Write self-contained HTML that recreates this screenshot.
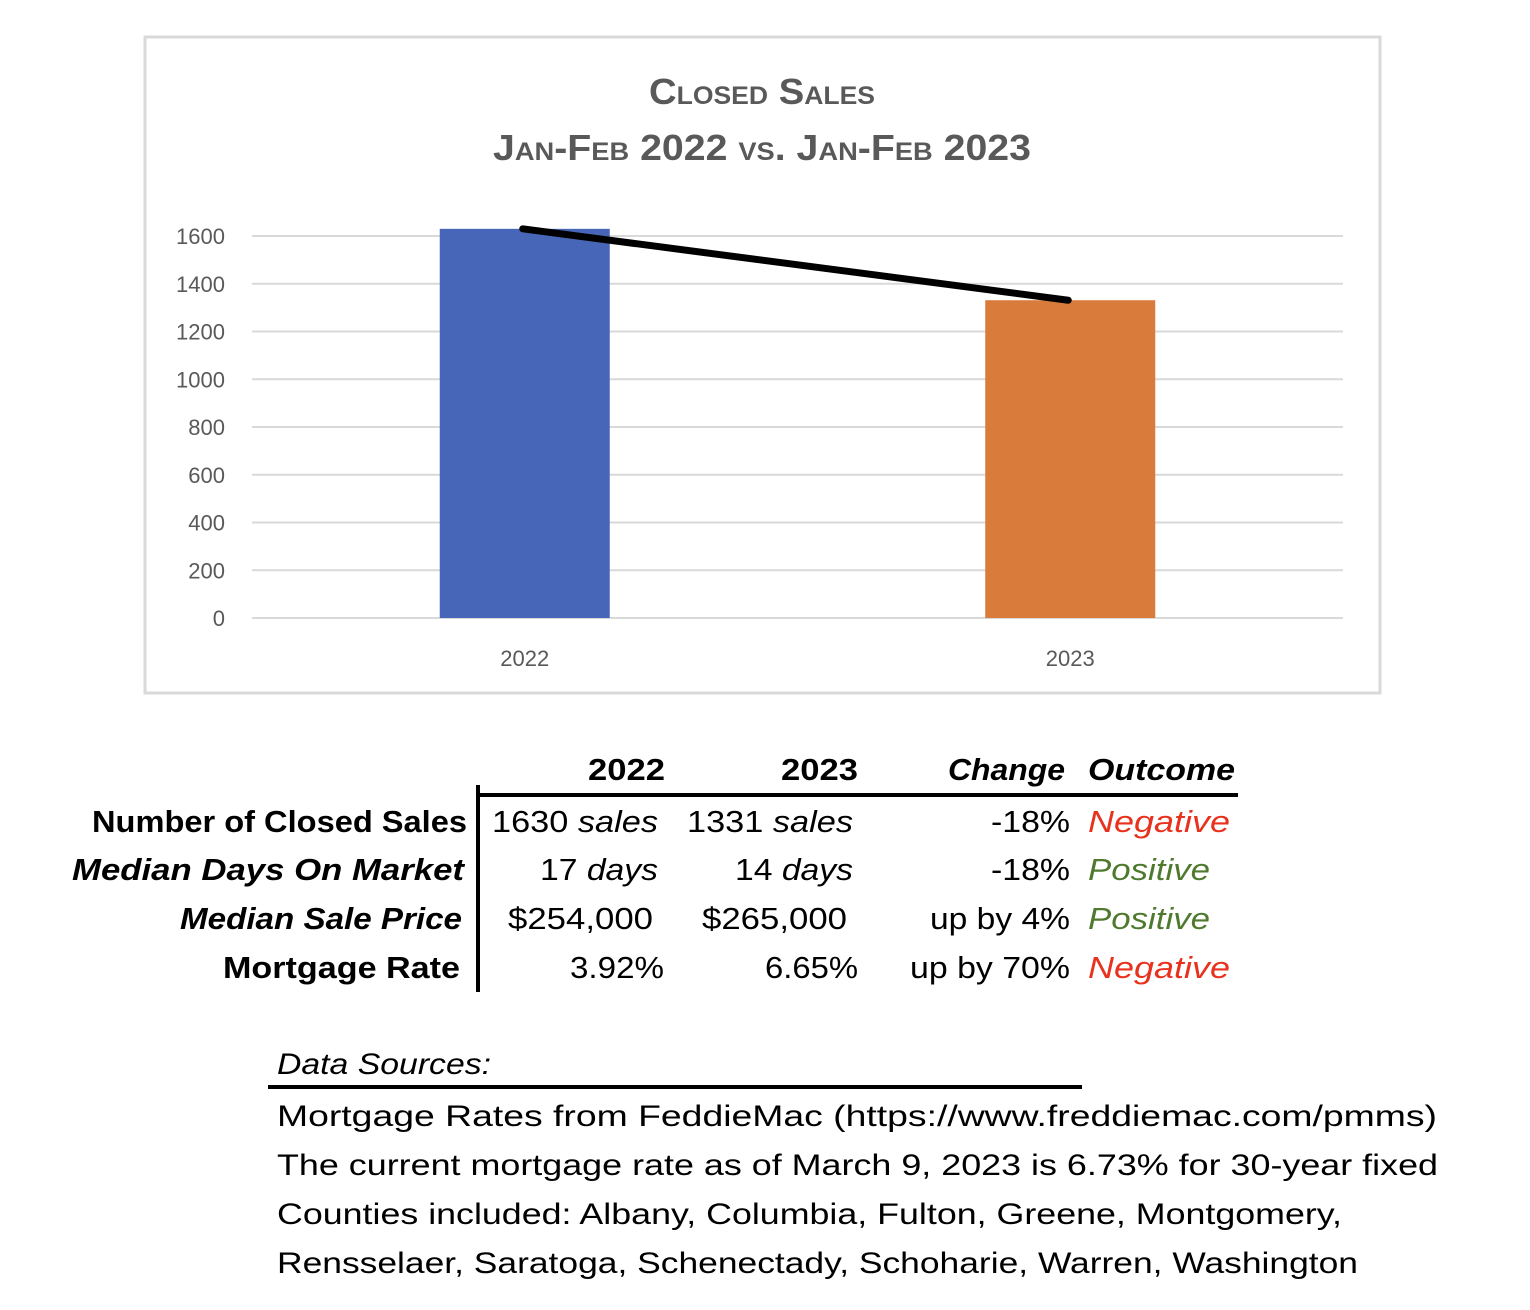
<!DOCTYPE html>
<html><head><meta charset="utf-8"><style>
html,body{margin:0;padding:0;background:#fff;}
svg{display:block;font-family:"Liberation Sans",sans-serif;}
</style></head><body>
<svg width="1530" height="1310" viewBox="0 0 1530 1310">
<rect x="145" y="37" width="1235" height="656" fill="#fff" stroke="#d9d9d9" stroke-width="3"/>
<g fill="#595959" font-weight="bold" style="font-variant:small-caps" text-anchor="middle">
<text x="762" y="104" font-size="36" textLength="226" lengthAdjust="spacingAndGlyphs">Closed Sales</text>
<text x="762" y="160" font-size="36" textLength="538" lengthAdjust="spacingAndGlyphs">Jan-Feb 2022 vs. Jan-Feb 2023</text>
</g>
<g id="grid"></g><g id="bars"></g><g id="trend"></g>

<g font-size="31" lengthAdjust="spacingAndGlyphs">
<g font-weight="bold" font-size="31">
<text x="665" y="780" text-anchor="end" textLength="77" lengthAdjust="spacingAndGlyphs">2022</text>
<text x="858" y="780" text-anchor="end" textLength="77" lengthAdjust="spacingAndGlyphs">2023</text>
<text x="1065" y="780" text-anchor="end" font-style="italic" textLength="117" lengthAdjust="spacingAndGlyphs">Change</text>
<text x="1088" y="780" font-style="italic" textLength="147" lengthAdjust="spacingAndGlyphs">Outcome</text>
<text x="467" y="832" text-anchor="end" textLength="375" lengthAdjust="spacingAndGlyphs">Number of Closed Sales</text>
<text x="464" y="880" text-anchor="end" font-style="italic" textLength="392" lengthAdjust="spacingAndGlyphs">Median Days On Market</text>
<text x="462" y="929" text-anchor="end" font-style="italic" textLength="282" lengthAdjust="spacingAndGlyphs">Median Sale Price</text>
<text x="460" y="978" text-anchor="end" textLength="237" lengthAdjust="spacingAndGlyphs">Mortgage Rate</text>
</g>
<line x1="478" y1="785" x2="478" y2="992" stroke="#000" stroke-width="4"/>
<line x1="478" y1="795" x2="1238" y2="795" stroke="#000" stroke-width="4"/>
<text x="492" y="832" textLength="166" lengthAdjust="spacingAndGlyphs">1630 <tspan font-style="italic">sales</tspan></text>
<text x="687" y="832" textLength="166" lengthAdjust="spacingAndGlyphs">1331 <tspan font-style="italic">sales</tspan></text>
<text x="991" y="832" textLength="79" lengthAdjust="spacingAndGlyphs">-18%</text>
<text x="1088" y="832" fill="#e8321e" font-style="italic" textLength="142" lengthAdjust="spacingAndGlyphs">Negative</text>
<text x="540" y="880" textLength="118" lengthAdjust="spacingAndGlyphs">17 <tspan font-style="italic">days</tspan></text>
<text x="735" y="880" textLength="118" lengthAdjust="spacingAndGlyphs">14 <tspan font-style="italic">days</tspan></text>
<text x="991" y="880" textLength="79" lengthAdjust="spacingAndGlyphs">-18%</text>
<text x="1088" y="880" fill="#4f7a2e" font-style="italic" textLength="122" lengthAdjust="spacingAndGlyphs">Positive</text>
<text x="508" y="929" textLength="145" lengthAdjust="spacingAndGlyphs">$254,000</text>
<text x="702" y="929" textLength="145" lengthAdjust="spacingAndGlyphs">$265,000</text>
<text x="930" y="929" textLength="140" lengthAdjust="spacingAndGlyphs">up by 4%</text>
<text x="1088" y="929" fill="#4f7a2e" font-style="italic" textLength="122" lengthAdjust="spacingAndGlyphs">Positive</text>
<text x="570" y="978" textLength="94" lengthAdjust="spacingAndGlyphs">3.92%</text>
<text x="765" y="978" textLength="93" lengthAdjust="spacingAndGlyphs">6.65%</text>
<text x="910" y="978" textLength="160" lengthAdjust="spacingAndGlyphs">up by 70%</text>
<text x="1088" y="978" fill="#e8321e" font-style="italic" textLength="142" lengthAdjust="spacingAndGlyphs">Negative</text>
</g>

<g font-size="30">
<text x="277" y="1074" font-style="italic" textLength="214" lengthAdjust="spacingAndGlyphs">Data Sources:</text>
<line x1="268" y1="1087" x2="1082" y2="1087" stroke="#000" stroke-width="4"/>
<text x="277" y="1126" textLength="1160" lengthAdjust="spacingAndGlyphs">Mortgage Rates from FeddieMac (https://www.freddiemac.com/pmms)</text>
<text x="277" y="1175" textLength="1161" lengthAdjust="spacingAndGlyphs">The current mortgage rate as of March 9, 2023 is 6.73% for 30-year fixed</text>
<text x="277" y="1224" textLength="1065" lengthAdjust="spacingAndGlyphs">Counties included: Albany, Columbia, Fulton, Greene, Montgomery,</text>
<text x="277" y="1273" textLength="1081" lengthAdjust="spacingAndGlyphs">Rensselaer, Saratoga, Schenectady, Schoharie, Warren, Washington</text>
</g>
</svg>
<script>
const categories = ["2022", "2023"];
const salesValues = [1630, 1331];
const yTicks = [0, 200, 400, 600, 800, 1000, 1200, 1400, 1600];
const barColors = ["#4766b7", "#d87b3b"];

const NS = "http://www.w3.org/2000/svg";
const plotL = 252, plotR = 1343, y0 = 618, y1600 = 236;
function yScale(v){ return y0 - (v/1600)*(y0 - y1600); }
function xCenter(i){ const w=(plotR-plotL)/categories.length; return plotL + w*(i+0.5); }
function mk(tag, attrs, parent){ const e=document.createElementNS(NS,tag); for(const k in attrs) e.setAttribute(k,attrs[k]); parent.appendChild(e); return e; }

const grid = document.getElementById('grid');
yTicks.forEach(t=>{
  const y=yScale(t);
  const l=mk('line',{x1:plotL,x2:plotR,y1:y,y2:y,stroke:'#d9d9d9','stroke-width':2},grid);
  
  
  const tx=mk('text',{x:225,y:y+8,'text-anchor':'end','font-size':22,fill:'#595959'},grid);
  tx.textContent=t;
  
  
});
const bars = document.getElementById('bars');
const bw = 170;
categories.forEach((c,i)=>{
  const x=xCenter(i);
  const r=mk('rect',{x:x-bw/2,y:yScale(salesValues[i]),width:bw,height:y0-yScale(salesValues[i]),fill:barColors[i]},bars);
  
  
  const t=mk('text',{x:x,y:666,'text-anchor':'middle','font-size':22,fill:'#595959'},bars);
  t.textContent=c;
  
  
});
const trend = document.getElementById('trend');
const pts = salesValues.map((v,i)=>(xCenter(i)-2)+','+yScale(v)).join(' ');
const pl = mk('polyline',{points:pts,fill:'none',stroke:'#000','stroke-width':7,'stroke-linecap':'round'},trend);


</script>
</body></html>
